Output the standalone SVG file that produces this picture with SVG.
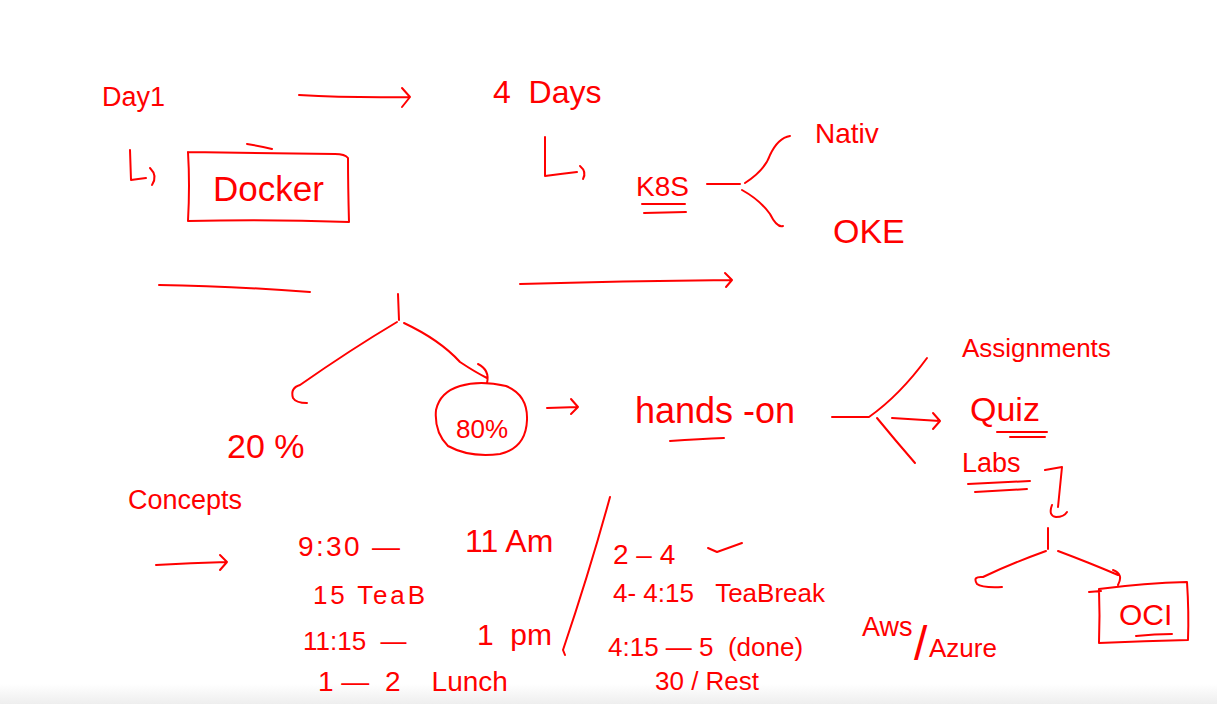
<svg xmlns="http://www.w3.org/2000/svg" width="1217" height="704" viewBox="0 0 1217 704">
<style>
.s{fill:none;stroke:#ff0000;stroke-width:2;stroke-linecap:round;stroke-linejoin:round}
text{fill:#ff0000;font-family:"Liberation Sans","DejaVu Sans",sans-serif;white-space:pre}
</style>
<defs>
<linearGradient id="bot" x1="0" y1="0" x2="0" y2="1"><stop offset="0" stop-color="#ffffff"/><stop offset="1" stop-color="#eeeeee"/></linearGradient>
</defs>
<rect width="1217" height="704" fill="#ffffff"/>
<rect x="0" y="684" width="1217" height="20" fill="url(#bot)"/>

<g id="connectors">
<path class="s" d="M299 95 Q350 98 410 97 M402 88 L410 97 L402 107"/>
<path class="s" d="M130 150 L131 180 Q138 179 146 178 M150 168 Q158 176 152 185"/>
<path class="s" d="M545 137 L545 176 Q560 174 577 172 M580 166 Q587 172 583 179"/>
<path class="s" d="M642 204 L685 204 M644 213 L686 212"/>
<path class="s" d="M707 184 L740 184 M745 183 Q765 170 770 155 Q778 138 790 136 M742 190 Q760 200 770 214 Q777 228 783 226"/>
<path class="s" d="M159 285 Q230 286 310 292"/>
<path class="s" d="M520 284 Q620 281 732 280 M725 273 L732 280 L726 287"/>
<path class="s" d="M398 294 L399 320 M397 322 Q350 350 300 385 M300 385 Q290 388 293 398 Q296 403 307 403"/>
<path class="s" d="M404 323 Q440 340 460 362 Q475 372 487 378 M478 364 Q490 370 487 383"/>
<path class="s" d="M547 408 L578 407 M571 399 L578 407 L571 414"/>
<path class="s" d="M670 441 Q700 439 724 438"/>
<path class="s" d="M832 417 L869 417 M869 417 Q900 395 927 358 M877 418 Q895 440 915 463 M892 418 L940 421 M933 413 L940 421 L933 429"/>
<path class="s" d="M997 432 L1047 432 M1010 437 L1045 437"/>
<path class="s" d="M968 484 L1030 481 M975 492 L1027 489"/>
<path class="s" d="M1045 470 L1062 467 L1058 507 M1052 505 Q1048 516 1056 517 Q1064 517 1067 512"/>
<path class="s" d="M1048 528 L1048 549 M1046 551 Q1010 564 983 577 M983 577 Q972 576 977 584 Q982 588 1002 587 M1058 551 Q1090 563 1118 575 M1113 570 Q1124 574 1118 585"/>
<path class="s" d="M610 497 Q590 570 563 650 M563 650 L565 655"/>
<path class="s" d="M708 548 L717 552 L742 543"/>
<path class="s" d="M1136 636 Q1155 634 1172 634"/>
<path class="s" d="M156 565 Q190 563 227 562 M220 555 L227 562 L220 570"/>
</g>

<g id="day1"><text x="102" y="106" font-size="27">Day1</text></g>
<g id="days4"><text x="493" y="103" font-size="32">4  Days</text></g>
<g id="docker">
<path class="s" d="M188 152 Q190 185 188 221 Q270 219 349 222 Q348 185 348 158 Q345 154 335 154 Q260 153 188 152 M247 144 Q260 146 272 149"/>
<text x="213" y="201" font-size="35">Docker</text>
</g>
<g id="k8s"><text x="636" y="196" font-size="28">K8S</text></g>
<g id="native"><text x="815" y="143" font-size="28">Nativ</text></g>
<g id="oke"><text x="833" y="243" font-size="34">OKE</text></g>
<g id="pct20"><text x="227" y="458" font-size="34">20 %</text></g>
<g id="pct80">
<path class="s" d="M460 386 Q480 380 506 386 Q528 395 527 420 Q526 448 500 454 Q470 458 448 446 Q434 432 436 410 Q440 392 460 386"/>
<text x="456" y="438" font-size="26">80%</text>
</g>
<g id="concepts"><text x="128" y="509" font-size="27">Concepts</text></g>
<g id="handson"><text x="635" y="423" font-size="36">hands -on</text></g>
<g id="assignments"><text x="962" y="357" font-size="26">Assignments</text></g>
<g id="quiz"><text x="970" y="421" font-size="34">Quiz</text></g>
<g id="labs"><text x="962" y="472" font-size="27">Labs</text></g>
<g id="oci">
<path class="s" d="M1089 592 L1101 591 M1099 589 Q1100 615 1099 643 Q1145 641 1188 640 Q1189 612 1187 582 Q1145 583 1099 589"/>
<text x="1119" y="625" font-size="30">OCI</text>
</g>
<g id="awsazure">
<text x="862" y="636" font-size="27">Aws</text>
<text x="914" y="660" font-size="48">/</text>
<text x="929" y="657" font-size="26">Azure</text>
</g>
<g id="schedule-morning">
<text x="298" y="556" font-size="28" textLength="102">9:30 —</text>
<text x="465" y="552" font-size="32">11 Am</text>
<text x="313" y="604" font-size="26" textLength="112">15 TeaB</text>
<text x="303" y="650" font-size="26">11:15  —</text>
<text x="477" y="645" font-size="30">1  pm</text>
<text x="318" y="691" font-size="28">1 —  2    Lunch</text>
</g>
<g id="schedule-afternoon">
<text x="613" y="564" font-size="28">2 – 4</text>
<text x="613" y="602" font-size="26">4- 4:15   TeaBreak</text>
<text x="608" y="656" font-size="26">4:15 — 5  (done)</text>
<text x="655" y="690" font-size="26">30 / Rest</text>
</g>
</svg>
